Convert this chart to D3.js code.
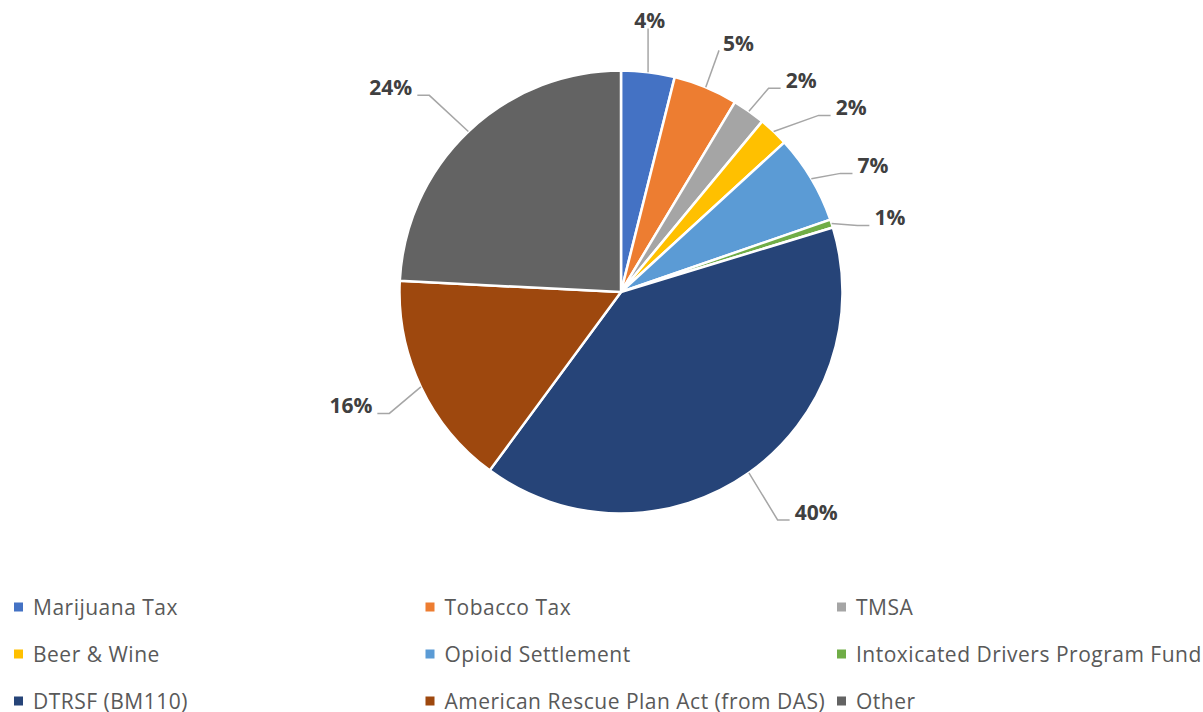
<!DOCTYPE html>
<html>
<head>
<meta charset="utf-8">
<script src="https://cdn.jsdelivr.net/npm/d3@7"></script>
<style>
  html, body { margin: 0; padding: 0; background: #ffffff; }
  svg { display: block; }
  text { font-family: "Open Sans", "Noto Sans", sans-serif; }
</style>
</head>
<body>
<svg id="chart" width="1203" height="712"></svg>
<script>
// Funding sources (share of total, percent)
const categories = [
  "Marijuana Tax",
  "Tobacco Tax",
  "TMSA",
  "Beer & Wine",
  "Opioid Settlement",
  "Intoxicated Drivers Program Fund",
  "DTRSF (BM110)",
  "American Rescue Plan Act (from DAS)",
  "Other"
];
const shares = [3.9, 4.7, 2.4, 2.2, 6.5, 0.6, 39.8, 15.7, 24.2];
const colors = ["#4472C4", "#ED7D31", "#A5A5A5", "#FFC000", "#5B9BD5",
                "#70AD47", "#264478", "#9E480E", "#636363"];

// Label placement: angular shift (deg) from the slice middle and distance from centre
const labelShift = [-1.0, 2.8, 5.1, 7.7, 4.1, 2.5, -6.3, 2.6, -4.8];
const labelDist  = [274, 275, 278, 295, 282, 279, 294, 293, 308];

const svg = d3.select("#chart");
const cx = 621, cy = 292, radius = 221.5;

const pie = d3.pie().sort(null).value(d => d);
const arcs = pie(shares);
const total = d3.sum(shares);
const arcGen = d3.arc().innerRadius(0).outerRadius(radius);
const fmt = d3.format(".0%");

const g = svg.append("g").attr("transform", `translate(${cx},${cy})`);

g.selectAll("path.slice")
  .data(arcs)
  .join("path")
  .attr("class", "slice")
  .attr("d", arcGen)
  .attr("fill", (d, i) => colors[i])
  .attr("stroke", "#ffffff")
  .attr("stroke-width", 2.5)
  .attr("stroke-linejoin", "round");

// polar -> cartesian with 0 at 12 o'clock, clockwise
const polar = (ang, r) => [Math.sin(ang) * r, -Math.cos(ang) * r];
const rad = deg => deg * Math.PI / 180;

const labels = g.append("g").attr("class", "labels");
const leaders = g.append("g").attr("class", "leaders");

arcs.forEach((d, i) => {
  const mid = (d.startAngle + d.endAngle) / 2;
  const [lx, ly] = polar(mid + rad(labelShift[i]), labelDist[i]);
  const t = labels.append("text")
    .attr("x", lx)
    .attr("y", ly)
    .attr("text-anchor", "middle")
    .attr("dominant-baseline", "central")
    .attr("font-size", 21)
    .attr("font-weight", 700)
    .attr("fill", "#404040")
    .text(fmt(d.data / total));
  const bb = t.node().getBBox();
  const left = lx - bb.width / 2, right = lx + bb.width / 2;
  const bottom = ly + 8;
  const [sx, sy] = polar(mid, radius);
  let pts;
  if (sx > left && sx < right) {
    // label sits straight above/below the slice edge
    pts = [[sx, sy], [sx, sy < ly ? ly - 9 : bottom + 1]];
  } else {
    const rightSide = sx < left;
    const ax = rightSide ? left - 5 : right + 5;
    const dx = Math.abs(ax - sx), dy = Math.abs(bottom - sy);
    if (dx > 0.6 * dy) {
      const ex = rightSide ? ax - 12 : ax + 12;
      pts = [[sx, sy], [ex, bottom], [ax, bottom]];
    } else {
      pts = [[sx, sy], [rightSide ? left - 4 : right + 4, bottom - 1]];
    }
  }
  leaders.append("path")
    .attr("d", d3.line()(pts))
    .attr("fill", "none")
    .attr("stroke", "#A6A6A6")
    .attr("stroke-width", 1.5);
});

// Legend: three columns, three rows
const colScale = d3.scaleLinear().domain([0, 1]).range([14, 425.5]);
const rowScale = d3.scaleLinear().domain([0, 1]).range([607, 654]);

const legend = svg.append("g").attr("class", "legend");
const items = legend.selectAll("g")
  .data(categories)
  .join("g")
  .attr("transform", (d, i) => `translate(${colScale(i % 3)},${rowScale(Math.floor(i / 3))})`);

items.append("rect")
  .attr("x", 0).attr("y", -4.5)
  .attr("width", 9).attr("height", 9)
  .attr("fill", (d, i) => colors[i]);

items.append("text")
  .attr("x", 19)
  .attr("y", 0)
  .attr("dominant-baseline", "central")
  .attr("font-size", 21)
  .attr("letter-spacing", 0.5)
  .attr("fill", "#595959")
  .text(d => d);
</script>
</body>
</html>
